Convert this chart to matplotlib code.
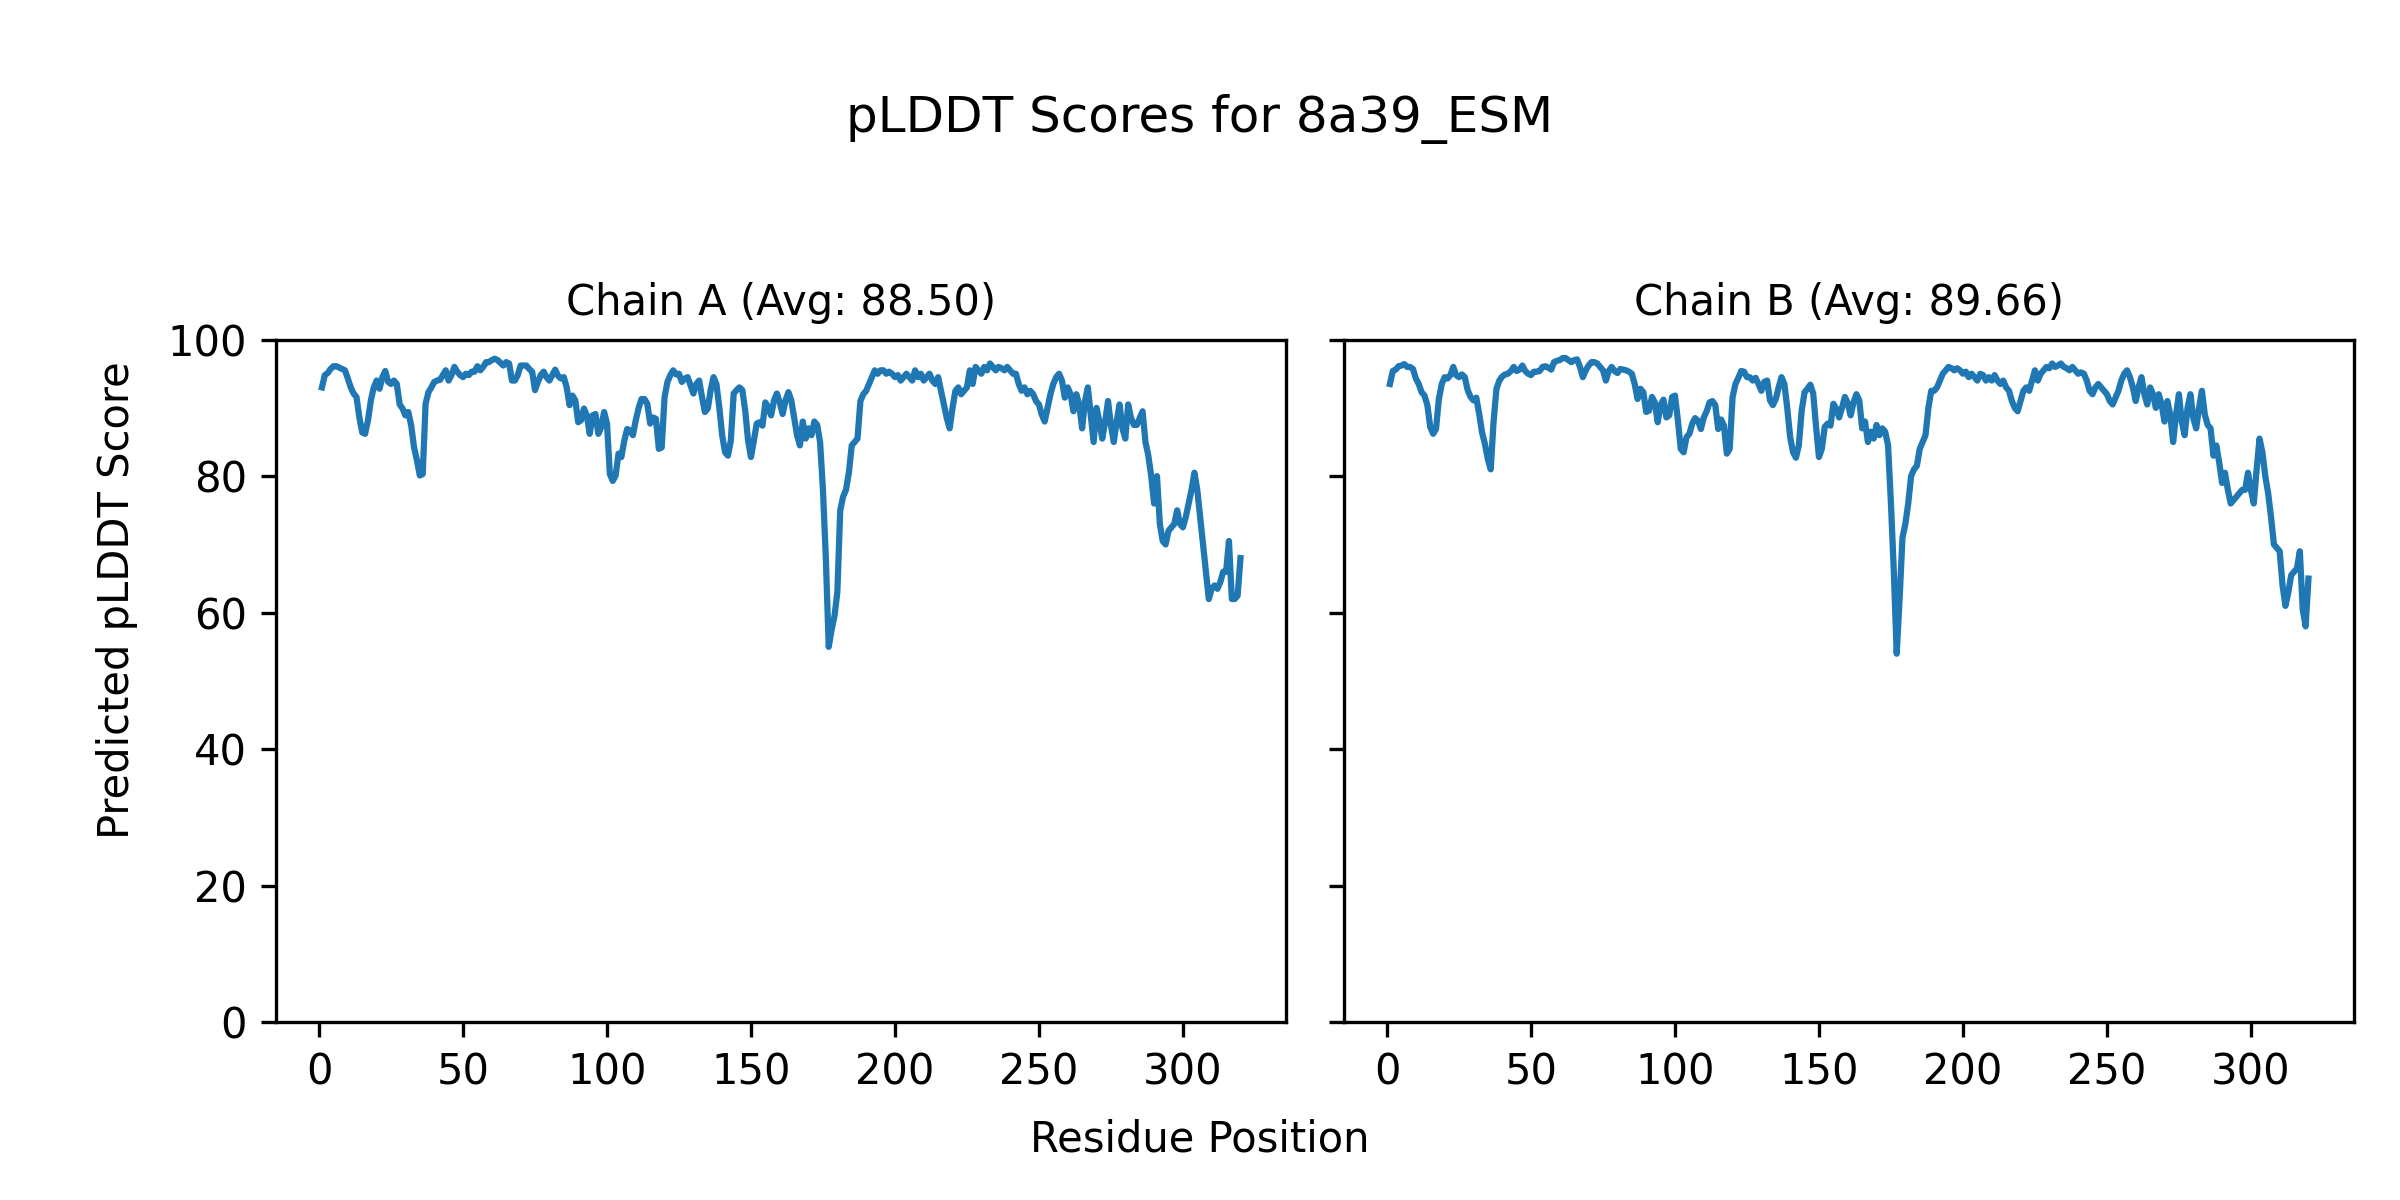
"""
Plots the per-residue pLDDT scores of the two chains of 8a39_ESM.
"""

import matplotlib
matplotlib.use("Agg")
import matplotlib.pyplot as plot
import numpy

structure_name = "8a39_ESM"
chain_names = ["A", "B"]
chain_averages = ["88.50", "89.66"]

chain_a_plddt = [
  93.0, 94.8, 95.1, 95.7, 96.1, 96.1, 95.9, 95.7, 95.5, 94.3,
  93.0, 92.1, 91.6, 88.6, 86.4, 86.2, 88.2, 91.1, 93.0, 94.0,
  92.8, 94.5, 95.4, 93.8, 93.5, 94.0, 93.5, 90.5, 89.9, 88.9,
  89.4, 87.4, 84.2, 82.3, 80.1, 80.3, 90.6, 92.3, 93.0, 93.8,
  94.0, 94.1, 94.8, 95.5, 94.0, 94.8, 96.0, 95.3, 94.8, 94.5,
  95.0, 94.8, 95.3, 95.3, 96.1, 95.5, 96.0, 96.7, 96.7, 97.0,
  97.2, 97.0, 96.6, 96.2, 96.7, 96.5, 94.0, 94.0, 94.8, 96.2,
  96.2, 96.2, 95.7, 95.3, 92.6, 93.8, 94.8, 95.3, 94.5, 94.0,
  94.8, 95.6, 94.7, 94.3, 94.5, 93.0, 90.4, 91.8, 91.1, 87.9,
  88.2, 89.9, 88.9, 86.2, 88.9, 89.1, 86.2, 87.2, 89.4, 87.7,
  80.3, 79.3, 80.1, 83.3, 82.8, 85.2, 86.9, 86.7, 86.0, 88.2,
  90.0, 91.3, 91.3, 90.6, 87.7, 88.6, 88.4, 84.0, 84.2, 91.6,
  93.8, 94.8, 95.5, 94.9, 95.0, 93.8, 94.3, 94.5, 93.3, 92.1,
  93.5, 94.0, 91.6, 89.4, 89.9, 92.6, 94.5, 93.5, 90.1, 86.0,
  83.5, 83.0, 85.2, 92.1, 92.6, 93.0, 92.6, 89.6, 85.2, 82.8,
  85.2, 87.7, 87.9, 87.4, 90.8, 90.1, 88.9, 91.1, 92.1, 90.8,
  89.1, 91.1, 92.3, 91.1, 88.5, 86.0, 84.5, 88.0, 85.5, 87.0,
  86.0, 88.0, 87.5, 85.0, 78.0, 68.0, 55.0, 57.5, 59.5, 63.0,
  75.0, 77.0, 78.0, 80.5, 84.5, 85.0, 85.5, 91.0, 92.0, 92.5,
  93.5, 94.5, 95.5, 95.0, 95.5, 95.5, 95.0, 95.3, 95.0, 94.5,
  94.8, 94.0, 94.5, 95.0, 94.5, 94.0, 95.5, 94.5, 95.0, 94.0,
  94.5, 95.0, 94.0, 93.5, 94.5, 92.5, 90.5, 88.5, 87.0, 90.0,
  92.5, 93.0, 92.0, 92.5, 93.0, 95.5, 93.5, 96.0, 95.5, 95.0,
  96.0, 95.5, 96.5, 96.0, 95.5, 96.0, 95.8, 95.5, 96.0, 95.5,
  95.0, 95.0, 93.5, 92.5, 93.0, 92.0, 92.5, 92.0, 91.0, 90.5,
  89.0, 88.0, 90.0, 92.0, 93.5, 94.5, 95.0, 94.0, 91.5, 93.0,
  92.0, 89.5, 92.0, 90.5, 87.0, 91.0, 93.0, 89.0, 85.0, 90.0,
  88.0, 85.5, 88.0, 91.0, 87.5, 85.0, 88.0, 90.5, 87.0, 85.5,
  90.5, 88.5, 87.5, 87.5, 88.5, 89.5, 85.0, 83.0, 80.0, 76.0,
  80.0, 73.0, 70.5, 70.0, 72.0, 72.5, 73.0, 75.0, 73.0, 72.5,
  74.0, 76.0, 78.0, 80.5, 78.0, 74.0, 70.0, 66.0, 62.0, 63.5,
  64.0, 63.5, 64.5, 66.0, 66.0, 70.5, 62.0, 62.0, 62.5, 68.0,
]

chain_b_plddt = [
  93.5, 95.4, 95.6, 96.1, 96.2, 96.4, 96.0, 96.0, 95.7, 94.3,
  93.5, 92.3, 91.8, 90.4, 87.2, 86.2, 86.9, 91.3, 93.5, 94.5,
  94.3, 94.8, 96.0, 94.8, 94.5, 94.9, 94.5, 92.6, 91.6, 91.1,
  91.5, 89.1, 86.4, 84.7, 82.5, 81.0, 88.0, 92.8, 94.0, 94.6,
  94.9, 95.0, 95.4, 96.0, 95.4, 95.6, 96.2, 95.4, 95.0, 94.8,
  95.3, 95.3, 95.4, 96.0, 96.1, 95.9, 95.6, 96.7, 96.9, 97.0,
  97.3, 97.3, 97.0, 96.7, 97.0, 97.1, 96.0, 94.5, 95.5, 96.2,
  96.7, 96.7, 96.5, 96.0, 95.5, 94.0, 95.4, 96.0, 95.4, 95.1,
  95.7, 95.6, 95.5, 95.3, 95.0, 93.5, 91.3, 92.8, 92.3, 89.4,
  89.6, 91.6, 90.8, 87.9, 90.4, 91.2, 88.6, 88.9, 91.6, 91.8,
  88.2, 84.0, 83.5, 85.7, 86.2, 87.7, 88.5, 88.1, 86.9, 88.6,
  89.5, 90.8, 91.0, 90.4, 86.9, 88.3, 87.4, 83.3, 84.0, 91.6,
  93.5, 94.4, 95.4, 95.3, 94.5, 94.5, 94.0, 94.4, 93.5, 92.5,
  93.8, 94.0, 91.1, 90.4, 91.3, 93.0, 94.5, 93.5, 89.9, 85.7,
  83.5, 82.7, 84.5, 89.6, 92.3, 92.8, 93.4, 92.1, 87.2, 82.8,
  84.0, 87.2, 87.7, 87.4, 90.6, 89.9, 88.6, 90.0, 91.6, 90.7,
  88.9, 90.8, 92.0, 91.1, 87.0, 88.0, 85.0, 86.5, 85.5, 87.5,
  86.0, 87.0, 86.5, 84.5, 76.0, 66.0, 54.0, 62.0, 71.0, 73.0,
  76.0, 80.0, 81.0, 81.5, 84.0, 85.0, 86.0, 90.0, 92.5, 92.5,
  93.0, 94.0, 95.0, 95.5, 96.0, 95.8, 95.5, 95.8, 95.5, 95.0,
  95.3, 94.5, 95.0, 94.5, 94.0, 95.0, 94.8, 94.0, 94.5, 94.0,
  94.8, 94.0, 93.5, 94.0, 93.0, 92.5, 91.0, 90.0, 89.5, 91.0,
  92.5, 93.0, 92.5, 94.0, 95.5, 94.0, 95.0, 95.5, 96.0, 95.8,
  96.5, 96.0, 96.2, 96.5, 96.0, 95.8, 95.5, 96.0, 95.5, 95.0,
  95.2, 95.0, 94.0, 92.5, 92.0, 93.0, 93.5, 93.0, 92.5, 92.0,
  91.0, 90.5, 91.5, 92.5, 94.0, 95.0, 95.5, 94.5, 93.0, 91.0,
  93.0, 94.5, 92.0, 90.5, 93.0, 92.0, 90.0, 92.0, 90.5, 88.0,
  91.0, 89.0, 85.0, 89.0, 92.0, 88.0, 86.0, 90.0, 92.0, 88.5,
  87.0, 90.0, 92.5, 89.0, 87.5, 87.0, 83.0, 84.5, 82.0, 79.0,
  80.5, 78.0, 76.0, 76.5, 77.0, 77.5, 78.0, 78.0, 80.5, 78.0,
  76.0, 81.0, 85.5, 83.5, 80.0, 77.5, 74.0, 70.0, 69.5, 69.0,
  64.0, 61.0, 63.0, 65.5, 66.0, 66.5, 69.0, 60.5, 58.0, 65.0,
]


def plot_chain(axes, name: str, average: str, scores: list[float]):
  """
  Draws the pLDDT curve of one chain on the supplied axes.

  :param axes: the axes to draw on.
  :param name: the chain identifier.
  :param average: the average score, already formatted.
  :param scores: the per-residue pLDDT values.
  """

  positions = numpy.arange(1, len(scores) + 1)
  axes.plot(positions, scores, color="#1f77b4", linewidth=1.5)
  axes.set_title("Chain {} (Avg: {})".format(name, average), fontsize=10)
  axes.set_ylim(0, 100)


figure, axes_list = plot.subplots(1, 2, figsize=(8, 4), sharey=True)
figure.subplots_adjust(left=0.115, right=0.981, bottom=0.148, top=0.717, wspace=0.057)

for axes, name, average, scores in zip(axes_list, chain_names, chain_averages,
                                       [chain_a_plddt, chain_b_plddt]):
  plot_chain(axes, name, average, scores)

figure.suptitle("pLDDT Scores for {}".format(structure_name), fontsize=12, y=0.922)
figure.text(0.5, 0.04, "Residue Position", ha="center")
figure.text(0.04, 0.5, "Predicted pLDDT Score", va="center", rotation="vertical")

figure.savefig("out.png", dpi=300)
plot.close()
